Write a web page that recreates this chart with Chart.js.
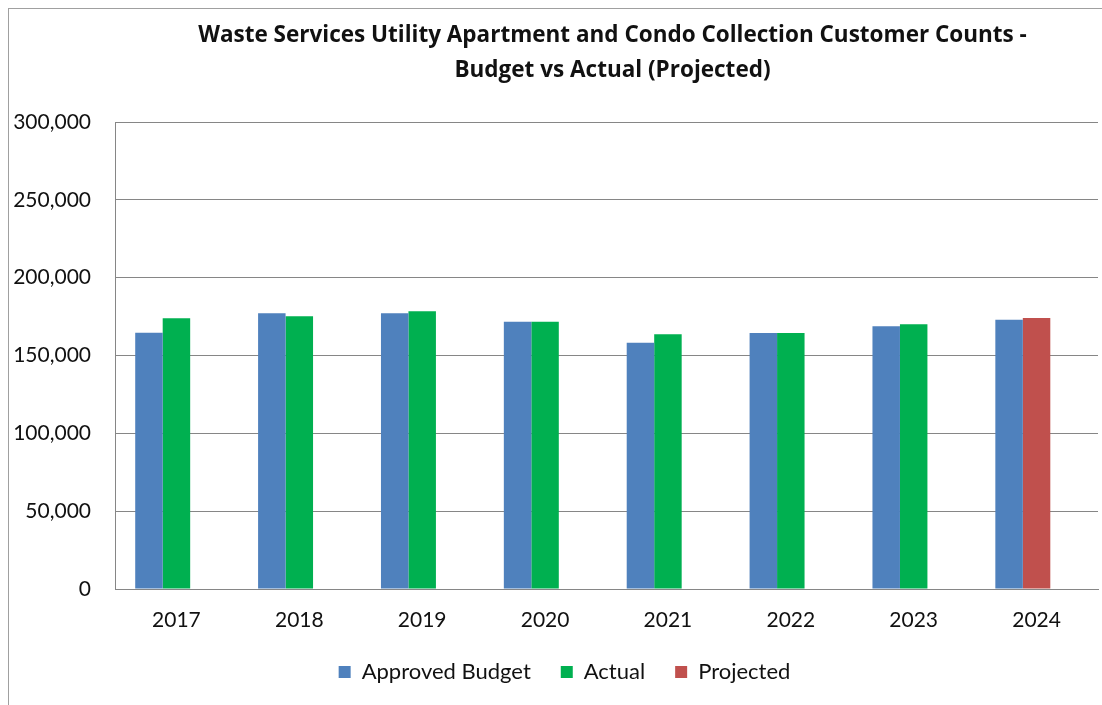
<!DOCTYPE html>
<html>
<head>
<meta charset="utf-8">
<script src="https://cdn.jsdelivr.net/npm/chart.js@4"></script>
<style>
  html, body { margin: 0; padding: 0; background: #fff; overflow: hidden; }
  #box { position: absolute; left: 8px; top: 8px; width: 1093px; height: 720px; border: 1px solid #a0a0a0; }
</style>
</head>
<body>
<div id="box"><canvas id="myChart"></canvas></div>
<script>
// Datos del grafico
const years = ["2017", "2018", "2019", "2020", "2021", "2022", "2023", "2024"];
const approvedBudget = [164600, 177100, 177100, 171700, 158200, 164400, 168800, 173000];
const actual = [173900, 175200, 178400, 171700, 163600, 164400, 170000, null];
const projected = [null, null, null, null, null, null, null, 174100];
const titleLines = ["Waste Services Utility Apartment and Condo Collection Customer Counts -", "Budget vs Actual (Projected)"];

// Titulo dibujado sobre el area del grafico
const titlePlugin = {
    id: 'centerTitle',
    afterLayout(chart) {
        // mover la leyenda un poco a la derecha
        if (chart.legend) {
            chart.legend.left += 11;
            chart.legend.right += 11;
        }
    },
    afterDraw(chart) {
        const c = chart.ctx;
        const mid = (chart.chartArea.left + chart.chartArea.right) / 2 + 6;
        c.save();
        c.font = 'bold 22.5px "Open Sans"';
        c.fillStyle = '#111';
        c.textAlign = 'center';
        c.textBaseline = 'middle';
        c.fillText(titleLines[0], mid, 27);
        c.fillText(titleLines[1], mid, 62);
        c.restore();
    }
};

let ctx = document.getElementById('myChart');

let myChart = new Chart(ctx, {
    type: 'bar',
    data: {
        labels: years,
        datasets: [{
            label: "Approved Budget",
            data: approvedBudget,
            backgroundColor: "#4f81bd",
            stack: 'a'
        }, {
            label: "Actual",
            data: actual,
            backgroundColor: "#00b050",
            stack: 'b'
        }, {
            label: "Projected",
            data: projected,
            backgroundColor: "#c0504d",
            stack: 'b'
        }, {
            // hueco vacio (tercera posicion del grupo, como en Excel)
            label: "",
            data: [],
            stack: 'c'
        }]
    },
    options: {
        responsive: true,
        maintainAspectRatio: false,
        animation: false,
        categoryPercentage: 0.671,
        barPercentage: 1.0,
        layout: { padding: { left: 0, right: 4, top: 113, bottom: 36 } },
        scales: {
            x: {
                stacked: true,
                grid: { display: false, drawTicks: false },
                border: { color: '#868686' },
                ticks: { color: '#111', font: { family: 'Lato', size: 21 }, padding: 19 },
                afterFit: (s) => { s.height = 42; }
            },
            y: {
                stacked: false,
                min: 0,
                max: 300000,
                grid: { color: '#868686', drawTicks: false },
                border: { color: '#868686' },
                ticks: {
                    stepSize: 50000,
                    color: '#111',
                    font: { family: 'Lato', size: 21 },
                    padding: 24,
                    callback: (v) => v.toLocaleString('en-US')
                },
                afterFit: (s) => { s.width = 106; }
            }
        },
        plugins: {
            legend: {
                position: 'bottom',
                labels: {
                    color: '#111',
                    font: { family: 'Lato', size: 22 },
                    boxWidth: 12,
                    boxHeight: 12,
                    padding: 30,
                    filter: (item) => item.text !== ''
                }
            },
            tooltip: { enabled: false }
        }
    },
    plugins: [titlePlugin]
});
</script>
</body>
</html>
